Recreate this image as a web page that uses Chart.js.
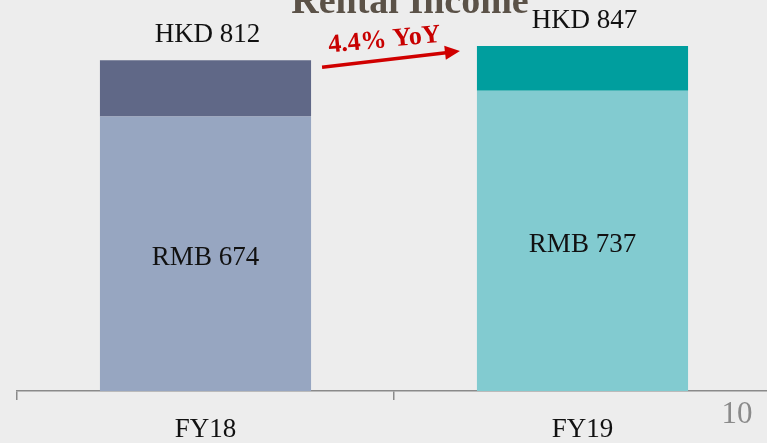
<!DOCTYPE html>
<html>
<head>
<meta charset="utf-8">
<script src="https://cdn.jsdelivr.net/npm/chart.js@4.4.1/dist/chart.umd.min.js"></script>
<style>
html,body{margin:0;padding:0;background:#EDEDED;overflow:hidden;width:767px;height:443px;}
#wrap{position:relative;width:767px;height:443px;overflow:hidden;}
canvas{position:absolute;left:0;top:0;}
</style>
</head>
<body>
<div id="wrap"><canvas id="c" width="790" height="443"></canvas></div>
<script>
const categories = ['FY18', 'FY19'];
const rmbValues = [674, 737];
const hkdValues = [812, 847];
const rmbLabels = ['RMB 674', 'RMB 737'];
const hkdLabels = ['HKD 812', 'HKD 847'];
const yoyLabel = '4.4% YoY';
const titleText = 'Rental Income';
const pageNumber = '10';

const bottomColors = ['#97A6C1', '#82CBD0'];
const topColors = ['#606887', '#009E9E'];
const FONT = '"Palatino Linotype", "Book Antiqua", Palatino, "Liberation Serif", serif';

const overlay = {
  id: 'overlay',
  afterDatasetsDraw(chart) {
    const ctx = chart.ctx;
    const m0 = chart.getDatasetMeta(0).data;
    const m1 = chart.getDatasetMeta(1).data;
    ctx.save();
    // title
    ctx.fillStyle = '#5B5248';
    ctx.font = 'bold 38px ' + FONT;
    ctx.textAlign = 'center';
    ctx.textBaseline = 'alphabetic';
    ctx.fillText(titleText, 410, 13);
    // labels
    ctx.fillStyle = '#111';
    ctx.font = '27px ' + FONT;
    for (let i = 0; i < categories.length; i++) {
      const b = m0[i], t = m1[i];
      const mid = (b.y + b.base) / 2;
      ctx.fillText(rmbLabels[i], b.x, mid + 11);
      ctx.fillText(hkdLabels[i], t.x + 2, t.y - 18.5);
    }
    // arrow
    const a = m1[0], c = m1[1];
    const x1 = a.x + a.width / 2 + 11, y1 = a.y + 7;
    const x2 = c.x - c.width / 2 - 17, y2 = c.y + 5;
    const ang = Math.atan2(y2 - y1, x2 - x1);
    const hl = 15, hw = 7;
    const bx = x2 - hl * Math.cos(ang), by = y2 - hl * Math.sin(ang);
    ctx.strokeStyle = '#D00000';
    ctx.fillStyle = '#D00000';
    ctx.lineWidth = 3.5;
    ctx.beginPath();
    ctx.moveTo(x1, y1);
    ctx.lineTo(bx + Math.cos(ang), by + Math.sin(ang));
    ctx.stroke();
    ctx.beginPath();
    ctx.moveTo(x2, y2);
    ctx.lineTo(bx - hw * Math.sin(ang), by + hw * Math.cos(ang));
    ctx.lineTo(bx + hw * Math.sin(ang), by - hw * Math.cos(ang));
    ctx.closePath();
    ctx.fill();
    // yoy text
    ctx.translate((x1 + x2) / 2 - 6, (y1 + y2) / 2 - 12);
    ctx.rotate(-5.5 * Math.PI / 180);
    ctx.font = 'bold 26px ' + FONT;
    ctx.fillStyle = '#C80000';
    ctx.fillText(yoyLabel, 0, 0);
    ctx.restore();
    // page number
    ctx.save();
    ctx.fillStyle = '#8A8A8A';
    ctx.font = '31px ' + FONT;
    ctx.textAlign = 'center';
    ctx.textBaseline = 'alphabetic';
    ctx.fillText(pageNumber, 737, 423);
    ctx.restore();
  }
};

new Chart(document.getElementById('c'), {
  type: 'bar',
  data: {
    labels: categories,
    datasets: [
      { label: 'RMB', data: rmbValues, backgroundColor: bottomColors, borderWidth: 0 },
      { label: 'HKD', data: hkdValues.map((v, i) => v - rmbValues[i]), backgroundColor: topColors, borderWidth: 0 }
    ]
  },
  options: {
    responsive: false,
    animation: false,
    devicePixelRatio: 1,
    layout: { padding: { left: 17, right: 19, top: 0, bottom: 0 } },
    plugins: { legend: { display: false }, tooltip: { enabled: false }, title: { display: false } },
    datasets: { bar: { categoryPercentage: 1, barPercentage: 0.56 } },
    scales: {
      x: {
        stacked: true,
        offset: true,
        grid: { offset: true, drawOnChartArea: false, drawTicks: true, tickLength: 9, color: '#8A8A8A', lineWidth: 1.5 },
        border: { display: true, color: '#8A8A8A', width: 1.5 },
        ticks: { color: '#111', font: { family: FONT, size: 27 }, padding: 14 },
        afterFit(scale) { scale.height = 52; }
      },
      y: {
        stacked: true,
        display: false,
        min: 0,
        max: 960
      }
    }
  },
  plugins: [overlay]
});
</script>
</body>
</html>
